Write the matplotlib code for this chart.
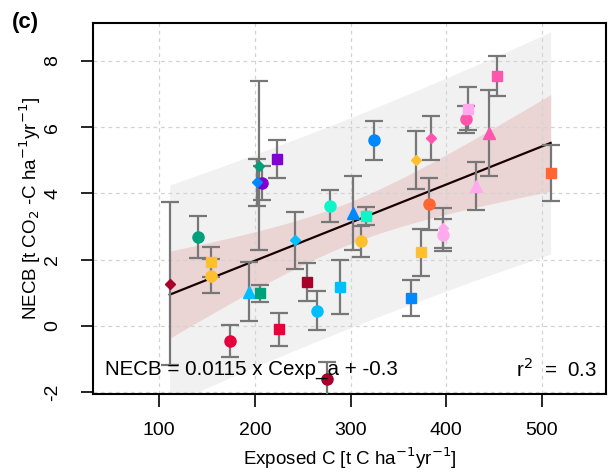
import numpy as np
import matplotlib
matplotlib.use("Agg")
import matplotlib.pyplot as plt

plt.rcParams['font.family'] = ['Liberation Sans', 'DejaVu Sans']
plt.rcParams['axes.unicode_minus'] = False

# data
exposed_c = [110.9, 140.8, 153.7, 153.7, 173.9, 194.3, 205.5, 203.9, 207.1, 201.8,
             222.7, 224.8, 241.6, 254.7, 264.6, 275.6, 278.5, 288.9, 302.5, 315.8,
             310.6, 324.2, 362.8, 368.4, 373.4, 381.7, 384.3, 396.3, 396.3, 420.3,
             422.4, 431.4, 445.0, 453.4, 509.2]
necb = [1.27, 2.68, 1.93, 1.50, -0.45, 1.04, 0.99, 4.84, 4.32, 4.33,
        5.03, -0.10, 2.58, 1.33, 0.46, -1.60, 3.63, 1.18, 3.42, 3.32,
        2.55, 5.60, 0.84, 5.00, 2.22, 3.68, 5.68, 2.95, 2.74, 6.23,
        6.56, 4.22, 5.83, 7.55, 4.61]
necb_se = [2.46, 0.63, 0.44, 0.51, 0.47, 0.90, 0.25, 2.55, 0.51, 0.70,
           0.57, 0.50, 0.87, 0.57, 0.59, 0.51, 0.48, 0.81, 1.12, 0.27,
           0.48, 0.59, 0.54, 0.87, 0.72, 0.77, 0.66, 0.60, 0.48, 0.41,
           0.65, 0.72, 1.30, 0.60, 0.84]
colors = ['#a8002a', '#00a07a', '#ffc030', '#ffc030', '#e8003d', '#00bfff', '#00a07a',
          '#00a07a', '#8000d0', '#0088ff', '#8000d0', '#e8003d', '#00bfff', '#a8002a',
          '#00bfff', '#a8002a', '#10f5c8', '#00bfff', '#0088ff', '#10f5c8', '#ffc030',
          '#0088ff', '#0088ff', '#ffc030', '#ffc030', '#ff6633', '#ff55aa', '#ffaaee',
          '#ffaaee', '#ff55aa', '#ffaaee', '#ffaaee', '#ff55aa', '#ff55aa', '#ff6633']
markers = ['D', 'o', 's', 'o', 'o', '^', 's', 'D', 'o', 'D',
           's', 's', 'D', 's', 'o', 'o', 'o', 's', '^', 's',
           'o', 'o', 's', 'D', 's', 'o', 'D', 'D', 'o', 'o',
           's', '^', '^', 's', 's']
x_ticks = [100, 200, 300, 400, 500]
y_ticks = [-2, 0, 2, 4, 6, 8]

x = np.array(exposed_c)
y = np.array(necb)

# linear fit: 95% confidence band, 90% prediction band
n = len(x)
slope, intercept = np.polyfit(x, y, 1)
resid = y - (slope * x + intercept)
s = np.sqrt(np.sum(resid ** 2) / (n - 2))
t95 = 2.0345
t90 = 1.6924
sxx = np.sum((x - x.mean()) ** 2)
xs = np.linspace(x.min(), x.max(), 200)
ys = slope * xs + intercept
ci = t95 * s * np.sqrt(1.0 / n + (xs - x.mean()) ** 2 / sxx)
pi = t90 * s * np.sqrt(1 + 1.0 / n + (xs - x.mean()) ** 2 / sxx)

fig = plt.figure(figsize=(6.09, 4.73), dpi=100)
ax = fig.add_axes([0.1527, 0.167, 0.8423, 0.7837])

ax.fill_between(xs, ys - pi, ys + pi, color='#f1f1f1', lw=0, zorder=1)
ax.fill_between(xs, ys - ci, ys + ci, color='#ead4d4', lw=0, zorder=1.5)

for v in x_ticks:
    ax.axvline(v, color='#d3d3d3', lw=0.9, ls=(0, (3, 3)), zorder=2)
for v in y_ticks:
    ax.axhline(v, color='#d3d3d3', lw=0.9, ls=(0, (3, 3)), zorder=2)

ax.plot(xs, ys, color='#1a0000', lw=1.6, zorder=3)

ax.errorbar(x, y, yerr=necb_se, fmt='none', ecolor='#777777', elinewidth=1.6,
            capsize=6.5, capthick=1.6, zorder=4)

sizes = {'o': 8, 's': 7, '^': 8.5, 'D': 5.5}
for xi, yi, c, m in zip(x, y, colors, markers):
    ax.plot(xi, yi, marker=m, color=c, ms=sizes[m], mec=c, ls='none', zorder=5)

ax.set_xlim(30.7, 567)
ax.set_ylim(-2.05, 9.13)
ax.set_xticks(x_ticks)
ax.set_yticks(y_ticks)
ax.tick_params(direction='out', length=9, width=1.2, labelsize=14)
ax.tick_params(axis='x', pad=11)
ax.tick_params(axis='y', pad=14)
for lbl in ax.get_yticklabels():
    lbl.set_rotation(90)
    lbl.set_va('center')
for sp in ax.spines.values():
    sp.set_linewidth(1.5)

ax.set_xlabel('Exposed C [t C ha$^{-1}$yr$^{-1}$]', fontsize=13.5, labelpad=5)
ax.set_ylabel('NECB [t CO$_2$ -C ha$^{-1}$yr$^{-1}$]', fontsize=13.5, labelpad=1)

ax.text(0.023, 0.067, 'NECB = 0.0115 x Cexp_a + -0.3', transform=ax.transAxes,
        fontsize=14.8, va='center', ha='left', zorder=6)
ax.text(0.983, 0.067, 'r$^2$  =  0.3', transform=ax.transAxes,
        fontsize=14.8, va='center', ha='right', zorder=6)

fig.text(0.02, 0.953, '(c)', fontsize=16, fontweight='bold', va='center', ha='left')

fig.savefig('out.png', dpi=100)
